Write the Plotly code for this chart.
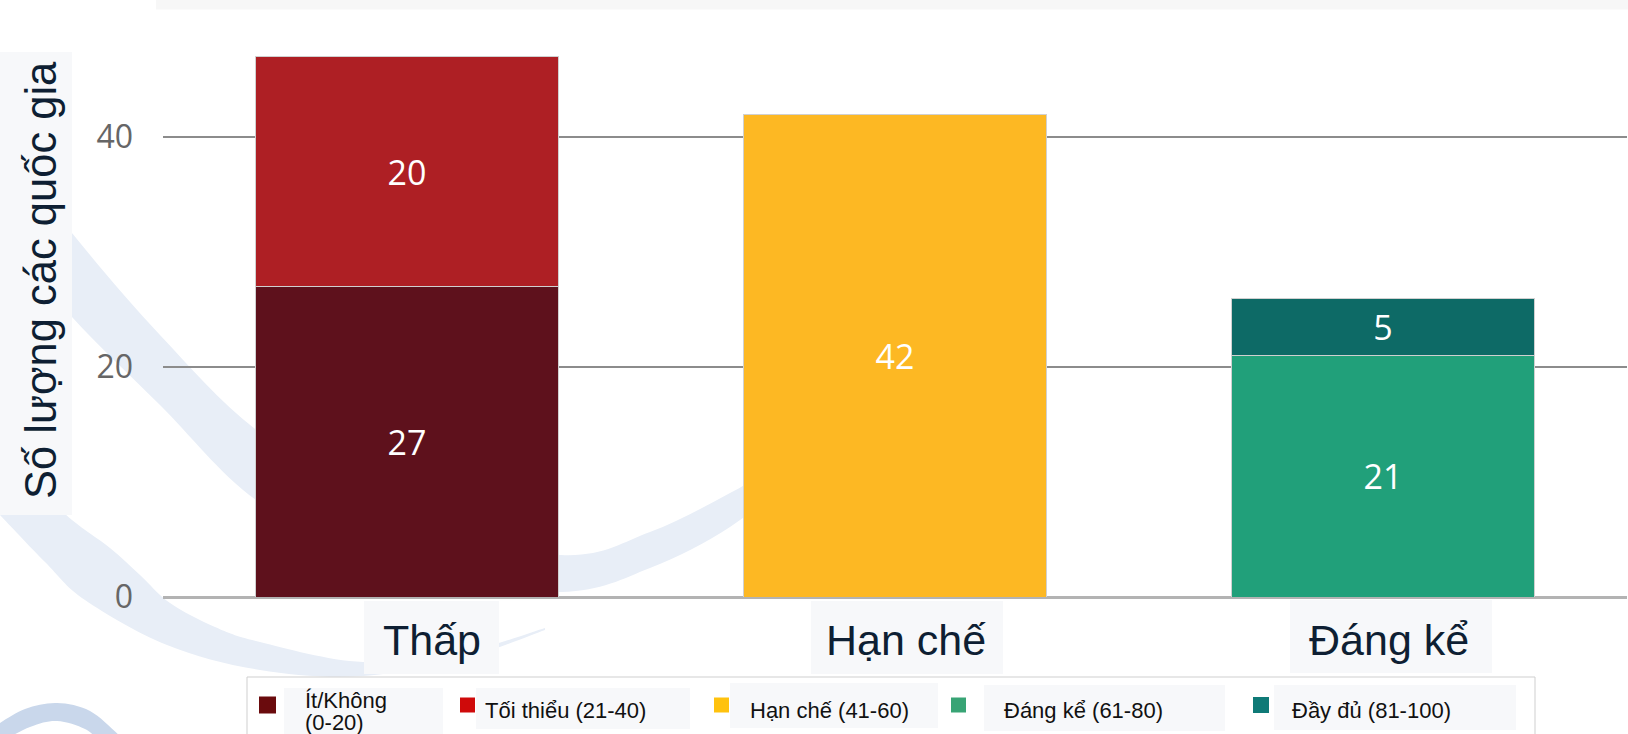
import plotly.graph_objects as go

# ---------------- data ----------------
categories = ["Thấp", "Hạn chế", "Đáng kể"]
series_names = ["Ít/Không (0-20)", "Tối thiểu (21-40)", "Hạn chế (41-60)",
                "Đáng kể (61-80)", "Đầy đủ (81-100)"]
it_khong = [27, None, None]
toi_thieu = [20, None, None]
han_che = [None, 42, None]
dang_ke = [None, None, 21]
day_du = [None, None, 5]
series_values = [it_khong, toi_thieu, han_che, dang_ke, day_du]
y_tick_vals = [0, 20, 40]
y_title = "Số lượng các quốc gia"

# ---------------- styles ----------------
bar_colors = ["#5e111c", "#ae1f24", "#fdb823", "#21a07a", "#0d6a66"]
legend_colors = ["#6a0b0d", "#cf0a0a", "#ffc20e", "#38a475", "#0f7a77"]
box_fill = "#f7f8fa"
text_dark = "#0e1f33"
band_fill = "#e8eef7"

W, H = 1628, 734
L, R, T, B = 163, 1627, 10, 597
PX_PER_UNIT = 11.5


def px(x):
    return (x - L) / (R - L)


def py(y):
    return (B - y) / (B - T)


def smooth(pts):
    s = ""
    for i in range(len(pts) - 1):
        p0 = pts[i - 1] if i > 0 else pts[i]
        p1, p2 = pts[i], pts[i + 1]
        p3 = pts[i + 2] if i + 2 < len(pts) else p2
        c1 = (p1[0] + (p2[0] - p0[0]) / 6, p1[1] + (p2[1] - p0[1]) / 6)
        c2 = (p2[0] - (p3[0] - p1[0]) / 6, p2[1] - (p3[1] - p1[1]) / 6)
        s += (f" C {px(c1[0]):.5f},{py(c1[1]):.5f} {px(c2[0]):.5f},{py(c2[1]):.5f}"
              f" {px(p2[0]):.5f},{py(p2[1]):.5f}")
    return s


def band_path(e1, e2):
    r2 = list(reversed(e2))
    return (f"M {px(e1[0][0]):.5f},{py(e1[0][1]):.5f}" + smooth(e1)
            + f" L {px(r2[0][0]):.5f},{py(r2[0][1]):.5f}" + smooth(r2) + " Z")


fig = go.Figure()
for name, vals, col in zip(series_names, series_values, bar_colors):
    fig.add_trace(go.Bar(
        x=categories, y=vals, name=name, showlegend=False,
        marker=dict(color=col, line=dict(color="#d0d0d0", width=1)),
        texttemplate="%{y}", textposition="inside", insidetextanchor="middle",
        textangle=0,
        textfont=dict(family="Open Sans", size=34, color="white"),
    ))

shapes = []
# watermark swooshes
bandA_e1 = [(10, 150), (72, 233), (160, 335), (260, 433), (400, 520), (561, 555),
            (650, 532), (730, 493), (800, 452)]
bandA_e2 = [(10, 240), (72, 317), (160, 405), (260, 503), (400, 575), (561, 592),
            (650, 568), (730, 527), (800, 470)]
bandB_e1 = [(40, 490), (72, 520), (110, 548), (140, 575), (170, 603), (215, 627),
            (260, 642), (363, 662), (470, 650), (545, 628)]
bandB_e2 = [(0, 515), (45, 562), (85, 600), (167, 645), (260, 670), (363, 676),
            (470, 656), (545, 630)]
bandC_e1 = [(-5, 726), (25, 709), (57, 703), (90, 711), (120, 736)]
bandC_e2 = [(-5, 745), (30, 727), (57, 721), (85, 729), (100, 742)]
for e1, e2, c in [(bandA_e1, bandA_e2, band_fill), (bandB_e1, bandB_e2, band_fill),
                  (bandC_e1, bandC_e2, "#c9d7eb")]:
    shapes.append(dict(type="path", xref="paper", yref="paper", layer="below",
                       path=band_path(e1, e2), fillcolor=c, line=dict(width=0)))


def rect(x0, y0, x1, y1, fill=box_fill, line=None, layer="above"):
    d = dict(type="rect", xref="paper", yref="paper", layer=layer,
             x0=px(x0), x1=px(x1), y0=py(y1), y1=py(y0), fillcolor=fill)
    d["line"] = line if line else dict(width=0)
    return d


# top strip
shapes.append(rect(156, 0, 1628, 9.5, fill="#f7f7f7"))
# title box and category boxes
shapes.append(rect(0, 52, 72, 515))
cat_boxes = [(364, 601, 499, 674), (811, 601, 1003, 674), (1290, 600, 1492, 673)]
for b in cat_boxes:
    shapes.append(rect(*b))
# legend frame
shapes.append(rect(247, 677, 1535, 760, fill="rgba(0,0,0,0)",
                   line=dict(color="#cfcfcf", width=1)))
# legend swatches and text boxes
sw_x = [259, 460, 714, 951, 1253]
sw_size = [17, 15, 15, 15, 16]
sw_cy = 705
leg_boxes = [(284, 688, 443, 736), (476, 688, 690, 729), (730, 683, 938, 728),
             (984, 685, 1225, 731), (1274, 685, 1516, 730)]
for x0, s, col in zip(sw_x, sw_size, legend_colors):
    shapes.append(rect(x0, sw_cy - s / 2, x0 + s, sw_cy + s / 2, fill=col))
for b in leg_boxes:
    shapes.append(rect(*b))

annotations = []
annotations.append(dict(xref="paper", yref="paper", x=px(41), y=py(280),
                        text=y_title, textangle=-90, showarrow=False,
                        xanchor="center", yanchor="middle",
                        font=dict(family="Liberation Sans", size=43.5, color=text_dark)))
cat_cx = [431.5, 906, 1389]
for name, cx in zip(categories, cat_cx):
    annotations.append(dict(xref="paper", yref="paper", x=px(cx), y=py(640),
                            text=name, showarrow=False, xanchor="center", yanchor="middle",
                            font=dict(family="Liberation Sans", size=43, color=text_dark)))
leg_tx = [303, 483, 748, 1002, 1290]
for name, tx in zip(series_names, leg_tx):
    f = dict(family="Liberation Sans", size=22, color="#111111")
    if name.startswith("Ít/Không"):
        first, second = name.split(" ", 1)
        annotations.append(dict(xref="paper", yref="paper", x=px(tx), y=py(700), text=first,
                                showarrow=False, xanchor="left", yanchor="middle", font=f))
        annotations.append(dict(xref="paper", yref="paper", x=px(tx), y=py(722), text=second,
                                showarrow=False, xanchor="left", yanchor="middle", font=f))
    else:
        annotations.append(dict(xref="paper", yref="paper", x=px(tx), y=py(710), text=name,
                                showarrow=False, xanchor="left", yanchor="middle", font=f))

fig.update_layout(
    width=W, height=H, barmode="stack", bargap=0.379,
    margin=dict(l=L, r=W - R, t=T, b=H - B, autoexpand=False),
    paper_bgcolor="white", plot_bgcolor="rgba(0,0,0,0)",
    xaxis=dict(type="category", range=[-0.5, 2.5], showticklabels=False,
               showgrid=False, zeroline=False, showline=False, fixedrange=True),
    yaxis=dict(range=[0, (B - T) / PX_PER_UNIT], tickvals=y_tick_vals,
               ticktext=[str(v) for v in y_tick_vals], showgrid=True,
               gridcolor="#8c8c8c", gridwidth=1.5, zeroline=True,
               zerolinecolor="#b3b3b3", zerolinewidth=2.5, showline=False,
               ticks="", ticklabelstandoff=29,
               tickfont=dict(family="Open Sans", size=32, color="#666666")),
    shapes=shapes, annotations=annotations, showlegend=False,
)

fig.write_html("out.html", config={"displayModeBar": False},
               post_script="document.body.style.margin='0';"
                           "document.body.style.overflow='hidden';")
